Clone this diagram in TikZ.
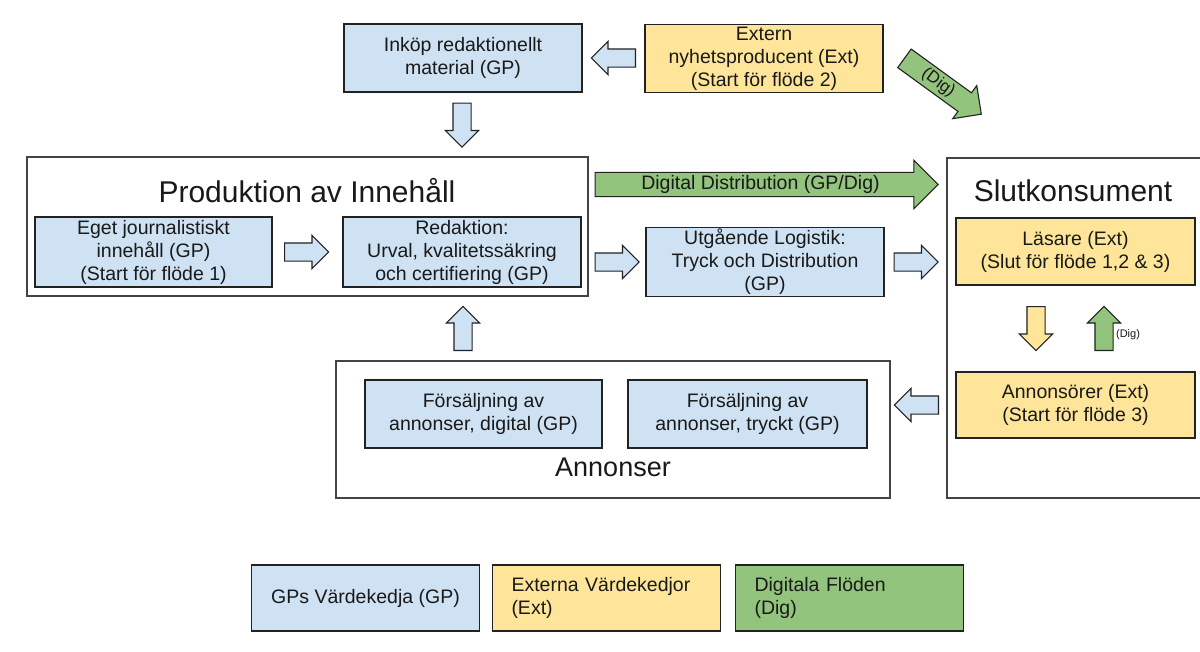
\documentclass[tikz,border=0pt]{standalone}
\usepackage{fontspec}
\setmainfont{Liberation Sans}
\usetikzlibrary{shapes.arrows,calc}
\definecolor{gpblue}{HTML}{CFE2F3}
\definecolor{extyellow}{HTML}{FFE599}
\definecolor{diggreen}{HTML}{93C47D}
\definecolor{edge}{HTML}{222222}
\definecolor{framec}{HTML}{444444}
\newcommand\txtbody{\fontsize{19.5}{23}\selectfont}
\newcommand\txttitle{\fontsize{30}{34}\selectfont}
\begin{document}
\begin{tikzpicture}[x=1pt,y=-1pt,
  box/.style={draw=edge, line width=1.2pt, align=center, inner sep=2pt, text=black!90, font=\txtbody},
  gp/.style={box, fill=gpblue},
  ext/.style={box, fill=extyellow},
  dig/.style={box, fill=diggreen},
  legendbox/.style={draw=edge, line width=1.2pt, minimum width=228pt, minimum height=66pt, font=\txtbody, text=black!90},
  frame/.style={draw=framec, line width=1.4pt, fill=white},
  title/.style={font=\txttitle, text=black!90},
  barrow/.style={single arrow, draw=edge, line width=1.1pt, inner xsep=0pt, inner ysep=8.5pt, minimum width=32pt,
     minimum height=44pt, single arrow head extend=7.5pt, single arrow tip angle=90, fill=gpblue, anchor=tail},
]
\fill[white] (0,0) rectangle (1200,651);
\useasboundingbox (0,0) rectangle (1200,651);

% top row
\node[gp, minimum width=238pt, minimum height=68pt] (inkop) at (463,58) {Inköp redaktionellt\\material (GP)};
\node[ext, minimum width=238pt, minimum height=67pt] (extern) at (764,58.5) {Extern\\nyhetsproducent (Ext)\\(Start för flöde 2)};

% Produktion frame
\node[frame, minimum width=561pt, minimum height=139pt] (prod) at (307.5,226.5) {};
\node[title] (prodtitle) at (307,191) {Produktion av Innehåll};
\node[gp, minimum width=237pt, minimum height=70pt] (eget) at (153.5,252) {Eget journalistiskt\\innehåll (GP)\\(Start för flöde 1)};
\node[gp, minimum width=238pt, minimum height=70pt] (red) at (462,252) {Redaktion:\\Urval, kvalitetssäkring\\och certifiering (GP)};

\node[gp, minimum width=238pt, minimum height=68pt] (utg) at (765,262) {Utgående Logistik:\\Tryck och Distribution\\(GP)};

% Slutkonsument frame
\node[frame, minimum width=268pt, minimum height=340pt] (slut) at (1081,328) {};
\node[title] (sluttitle) at (1073,191) {Slutkonsument};
\node[ext, minimum width=239pt, minimum height=67pt] (lasare) at (1075.5,251.5) {Läsare (Ext)\\(Slut för flöde 1,2 \& 3)};
\node[ext, minimum width=239pt, minimum height=66pt] (annonsorer) at (1075.5,405) {Annonsörer (Ext)\\(Start för flöde 3)};

% Annonser frame
\node[frame, minimum width=554pt, minimum height=137pt] (annons) at (613,429.5) {};
\node[gp, minimum width=237pt, minimum height=68pt] (fdig) at (483.5,414) {Försäljning av\\annonser, digital (GP)};
\node[gp, minimum width=239pt, minimum height=68pt] (ftryck) at (747.5,414) {Försäljning av\\annonser, tryckt (GP)};
\node[font=\fontsize{27}{30}\selectfont, text=black!90] (anntitle) at (613,467) {Annonser};

% block arrows (placed by their tails)
\node[barrow, rotate=180] (a1) at (636,58) {};
\node[barrow, rotate=-90] (a2) at (462,102.5) {};
\node[barrow] (a3) at (284,252) {};
\node[barrow] (a4) at (594.5,262) {};
\node[barrow] (a5) at (893.5,262) {};
\node[barrow, rotate=90] (a6) at (463,351) {};
\node[barrow, rotate=180] (a7) at (939,405) {};
\node[barrow, rotate=-90, fill=extyellow] (a8) at (1036,306) {};
\node[barrow, rotate=90, fill=diggreen] (a9) at (1104,351) {};
\node[font=\fontsize{11}{13}\selectfont, text=black!90] (a9lab) at (1128,335) {(Dig)};

% digital distribution arrow
\node[barrow, fill=diggreen, minimum height=343pt, minimum width=47pt, inner ysep=2.5pt,
      single arrow head extend=12pt, font=\txtbody, text=black!90] (digdist) at (594.5,184.5) {Digital Distribution (GP/Dig)};

% diagonal dig arrow
\node[barrow, fill=diggreen, minimum height=95pt, minimum width=40pt, inner ysep=3pt,
      single arrow head extend=9pt, rotate=-36, font=\fontsize{17}{19}\selectfont, text=black!90] (diag) at (904,58) {(Dig)};

% legend
\node[legendbox, fill=gpblue] (leggp) at (365.5,598) {GPs Värdekedja (GP)};
\node[legendbox, fill=extyellow, align=left, text width=190pt] (legext) at (606.5,598) {Externa Värdekedjor\\(Ext)};
\node[legendbox, fill=diggreen, align=left, text width=190pt] (legdig) at (849.5,598) {Digitala Flöden\\(Dig)};
\end{tikzpicture}
\end{document}
